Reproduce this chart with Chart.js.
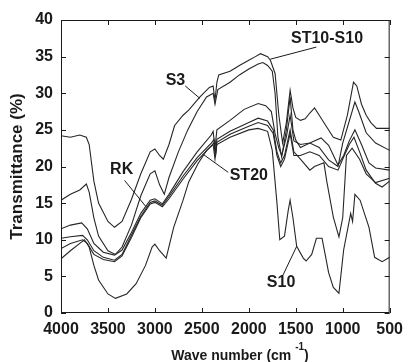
<!DOCTYPE html>
<html>
<head>
<meta charset="utf-8">
<script src="https://cdn.jsdelivr.net/npm/chart.js@4.4.1/dist/chart.umd.min.js"></script>
<style>
  html, body { margin: 0; padding: 0; background: #fff; }
  #wrap { width: 410px; height: 362px; }
</style>
</head>
<body>
<div id="wrap"><canvas id="ftir"></canvas></div>
<script>
// tick labels
const xTicks = [4000, 3500, 3000, 2500, 2000, 1500, 1000, 500]
const yTicks = [0, 5, 10, 15, 20, 25, 30, 35, 40]

// S3 (top curve, starts at 24 %)
const s3Wave = [4000, 3900, 3800, 3730, 3700, 3650, 3600, 3500, 3430, 3350, 3250, 3150, 3050, 3000, 2950, 2910, 2850, 2790, 2700, 2640, 2520, 2420, 2380, 2360, 2340, 2320, 2200, 2100, 2000, 1930, 1875, 1800, 1770, 1720, 1680, 1640, 1600, 1560, 1530, 1500, 1450, 1400, 1350, 1300, 1250, 1170, 1100, 1020, 950, 885, 850, 800, 750, 700, 640, 500]
const s3Trans = [24.2, 24.0, 24.3, 24.0, 23.0, 18.0, 15.0, 12.5, 11.7, 12.5, 15.5, 19.0, 22.0, 22.4, 21.5, 21.0, 23.0, 25.6, 27.0, 27.7, 29.5, 30.8, 31.0, 29.0, 31.5, 32.5, 33.0, 33.8, 34.5, 35.0, 35.4, 35.0, 34.5, 32.7, 27.0, 23.2, 26.0, 30.4, 28.0, 26.7, 26.3, 26.5, 27.3, 28.0, 27.0, 25.4, 24.0, 23.6, 27.0, 31.5, 31.0, 28.5, 27.0, 26.0, 25.2, 25.2]

// ST10-S10 (second curve at the top)
const st10Wave = [4000, 3900, 3800, 3730, 3700, 3650, 3600, 3500, 3420, 3350, 3250, 3150, 3050, 3000, 2950, 2900, 2850, 2750, 2650, 2550, 2450, 2380, 2360, 2330, 2200, 2100, 2000, 1900, 1850, 1800, 1750, 1720, 1690, 1650, 1600, 1560, 1530, 1500, 1450, 1350, 1250, 1150, 1050, 1000, 870, 830, 750, 650, 500]
const st10Trans = [15.4, 16.2, 16.8, 17.6, 16.5, 13.0, 10.5, 8.5, 8.0, 9.0, 12.0, 16.0, 19.0, 19.4, 17.5, 16.2, 18.5, 22.0, 25.0, 27.5, 29.5, 30.0, 28.5, 30.5, 31.5, 32.5, 33.3, 34.0, 34.2, 33.8, 33.0, 30.0, 24.0, 21.3, 25.0, 29.5, 25.0, 23.6, 22.6, 23.2, 22.6, 20.9, 20.0, 23.2, 28.8, 27.5, 24.6, 23.2, 22.2]

// RK
const rkWave = [4000, 3900, 3780, 3720, 3650, 3550, 3430, 3350, 3250, 3150, 3050, 3000, 2920, 2850, 2700, 2550, 2400, 2380, 2360, 2340, 2200, 2050, 1900, 1820, 1760, 1720, 1680, 1650, 1600, 1560, 1520, 1450, 1350, 1230, 1150, 1050, 990, 930, 870, 800, 720, 650, 500]
const rkTrans = [11.5, 12.0, 12.3, 11.5, 9.5, 8.3, 7.9, 8.6, 11.0, 13.6, 15.4, 15.6, 14.9, 16.2, 19.3, 22.0, 24.3, 24.8, 22.5, 25.0, 26.3, 27.8, 28.6, 28.3, 27.5, 24.5, 22.5, 21.5, 24.0, 27.0, 23.5, 23.0, 23.2, 23.9, 22.9, 20.2, 21.5, 23.5, 25.0, 23.0, 20.5, 19.8, 19.5]

// ST20
const st20Wave = [4000, 3900, 3770, 3720, 3650, 3550, 3430, 3350, 3250, 3150, 3050, 3000, 2920, 2850, 2700, 2550, 2400, 2370, 2355, 2340, 2200, 2000, 1900, 1800, 1740, 1700, 1660, 1620, 1560, 1520, 1450, 1350, 1300, 1200, 1170, 1100, 1040, 1000, 960, 900, 820, 750, 650, 500]
const st20Trans = [10.2, 10.4, 10.6, 10.0, 8.5, 7.6, 7.2, 8.0, 10.6, 13.2, 15.1, 15.3, 14.7, 15.9, 18.7, 21.2, 23.2, 23.7, 21.7, 23.7, 24.8, 26.0, 26.6, 26.2, 25.0, 22.0, 20.5, 21.5, 25.0, 22.0, 21.0, 19.5, 20.0, 20.5, 18.0, 13.1, 10.4, 13.0, 21.5, 22.5, 21.0, 19.0, 17.8, 18.4]

// third middle curve (no label in the figure)
const midWave = [4000, 3900, 3770, 3720, 3650, 3550, 3430, 3350, 3250, 3150, 3050, 3000, 2920, 2850, 2700, 2550, 2400, 2370, 2355, 2340, 2200, 2000, 1900, 1800, 1740, 1700, 1660, 1620, 1560, 1520, 1450, 1350, 1250, 1150, 1050, 1000, 930, 880, 820, 750, 650, 580, 500]
const midTrans = [8.8, 9.5, 10.0, 9.5, 8.0, 7.3, 7.0, 7.8, 10.3, 13.0, 14.9, 15.1, 14.5, 15.6, 18.3, 20.8, 22.8, 23.3, 21.3, 23.3, 24.4, 25.5, 26.0, 25.6, 24.5, 21.5, 20.0, 21.0, 24.5, 21.5, 21.5, 22.0, 21.5, 20.0, 19.5, 21.0, 23.0, 24.0, 22.0, 19.5, 17.7, 17.2, 18.0]

// S10 (lowest curve)
const s10Wave = [4000, 3900, 3800, 3750, 3700, 3650, 3600, 3500, 3420, 3300, 3200, 3100, 3030, 3000, 2950, 2880, 2800, 2700, 2640, 2540, 2450, 2380, 2360, 2340, 2200, 2000, 1900, 1800, 1750, 1700, 1670, 1620, 1580, 1560, 1530, 1490, 1420, 1390, 1330, 1280, 1220, 1190, 1150, 1100, 1040, 990, 915, 895, 870, 815, 720, 660, 580, 500]
const s10Trans = [7.4, 8.5, 9.5, 10.0, 9.0, 6.5, 4.5, 2.6, 2.0, 2.6, 4.0, 6.5, 9.0, 9.4, 8.5, 7.5, 11.7, 15.4, 17.9, 20.4, 22.2, 23.0, 21.0, 23.0, 24.0, 25.0, 25.2, 24.8, 22.2, 15.0, 10.0, 10.5, 14.0, 15.4, 13.0, 9.1, 7.5, 7.1, 8.0, 10.2, 10.2, 8.2, 5.5, 3.5, 2.7, 8.6, 13.6, 12.5, 16.2, 15.4, 11.7, 7.6, 7.0, 7.6]

// curve labels: text centre and leader line, in data units
const curveLabels = [
  { text: 'S3', w: 2781, t: 31.7, from: [2677, 31.0], to: [2521, 29.3] },
  { text: 'ST10-S10', w: 1167, t: 37.4, from: [1281, 36.3], to: [1771, 34.65] },
  { text: 'RK', w: 3354, t: 19.6, from: [3323, 18.1], to: [3094, 14.5] },
  { text: 'ST20', w: 2000, t: 18.8, from: [2219, 19.2], to: [2479, 21.6] },
  { text: 'S10', w: 1656, t: 4.1, from: [1635, 5.2], to: [1490, 9.1] }
]

const FONT = '"Liberation Sans", Arial, sans-serif'
const INK = '#1a1a1a'

function pairs(wave, trans) {
  return wave.map(function (w, i) { return { x: w, y: trans[i] } })
}

function series(label, wave, trans) {
  return {
    label: label,
    data: pairs(wave, trans),
    borderColor: '#262626',
    borderWidth: 1.1,
    pointRadius: 0,
    tension: 0,
    fill: false
  }
}

// frame, inward ticks, curve labels and the x title
const decorations = {
  id: 'decorations',
  afterDraw(chart) {
    const ctx = chart.ctx
    const a = chart.chartArea
    const xs = chart.scales.x
    const ys = chart.scales.y
    ctx.save()
    ctx.strokeStyle = INK
    ctx.lineWidth = 1
    ctx.strokeRect(a.left + 0.5, a.top + 0.5, a.right - a.left - 1, a.bottom - a.top - 1)

    ctx.beginPath()
    xTicks.forEach(function (v) {
      const px = Math.round(xs.getPixelForValue(v)) + 0.5
      ctx.moveTo(px, a.bottom); ctx.lineTo(px, a.bottom - 5)
      ctx.moveTo(px, a.top); ctx.lineTo(px, a.top + 5)
    })
    yTicks.forEach(function (v) {
      const py = Math.round(ys.getPixelForValue(v)) + 0.5
      ctx.moveTo(a.left, py); ctx.lineTo(a.left + 5, py)
      ctx.moveTo(a.right, py); ctx.lineTo(a.right - 5, py)
    })
    ctx.stroke()

    // labels
    ctx.font = 'bold 16px ' + FONT
    ctx.fillStyle = INK
    ctx.textAlign = 'center'
    ctx.textBaseline = 'middle'
    curveLabels.forEach(function (l) {
      ctx.fillText(l.text, xs.getPixelForValue(l.w), ys.getPixelForValue(l.t))
      ctx.beginPath()
      ctx.moveTo(xs.getPixelForValue(l.from[0]), ys.getPixelForValue(l.from[1]))
      ctx.lineTo(xs.getPixelForValue(l.to[0]), ys.getPixelForValue(l.to[1]))
      ctx.stroke()
    })

    // x title with superscript
    const main = 'Wave number (cm '
    const sup = '-1'
    const tail = ')'
    ctx.font = 'bold 14px ' + FONT
    const wMain = ctx.measureText(main).width
    const wTail = ctx.measureText(tail).width
    ctx.font = 'bold 10px ' + FONT
    const wSup = ctx.measureText(sup).width
    let x0 = 240 - (wMain + wSup + wTail) / 2
    const base = 360
    ctx.textAlign = 'left'
    ctx.textBaseline = 'alphabetic'
    ctx.font = 'bold 14px ' + FONT
    ctx.fillText(main, x0, base)
    ctx.font = 'bold 10px ' + FONT
    ctx.fillText(sup, x0 + wMain, base - 10)
    ctx.font = 'bold 14px ' + FONT
    ctx.fillText(tail, x0 + wMain + wSup, base)
    ctx.restore()
  }
}

new Chart(document.getElementById('ftir'), {
  type: 'line',
  data: {
    datasets: [
      series('S3', s3Wave, s3Trans),
      series('ST10-S10', st10Wave, st10Trans),
      series('RK', rkWave, rkTrans),
      series('ST20', st20Wave, st20Trans),
      series('', midWave, midTrans),
      series('S10', s10Wave, s10Trans)
    ]
  },
  options: {
    responsive: true,
    maintainAspectRatio: false,
    animation: false,
    layout: { padding: { top: 20, right: 13, left: 0, bottom: 0 } },
    plugins: {
      legend: { display: false },
      tooltip: { enabled: false }
    },
    scales: {
      x: {
        type: 'linear',
        reverse: true,
        min: 500,
        max: 4000,
        afterBuildTicks(scale) { scale.ticks = xTicks.map(function (v) { return { value: v } }) },
        afterFit(scale) { scale.height = 49 },
        grid: { display: false, drawTicks: false },
        border: { display: false },
        ticks: {
          padding: 7,
          color: INK,
          maxRotation: 0,
          callback: function (v) { return String(v) },
          font: { family: FONT, size: 16, weight: 'bold' }
        }
      },
      y: {
        min: 0,
        max: 40,
        afterBuildTicks(scale) { scale.ticks = yTicks.map(function (v) { return { value: v } }) },
        afterFit(scale) { scale.width = 61 },
        grid: { display: false, drawTicks: false },
        border: { display: false },
        title: {
          display: true,
          text: 'Transmittance (%)',
          color: INK,
          padding: { top: 7, bottom: 0 },
          font: { family: FONT, size: 17, weight: 'bold' }
        },
        ticks: {
          padding: 8,
          color: INK,
          callback: function (v) { return String(v) },
          font: { family: FONT, size: 16, weight: 'bold' }
        }
      }
    }
  },
  plugins: [decorations]
})
</script>
</body>
</html>
